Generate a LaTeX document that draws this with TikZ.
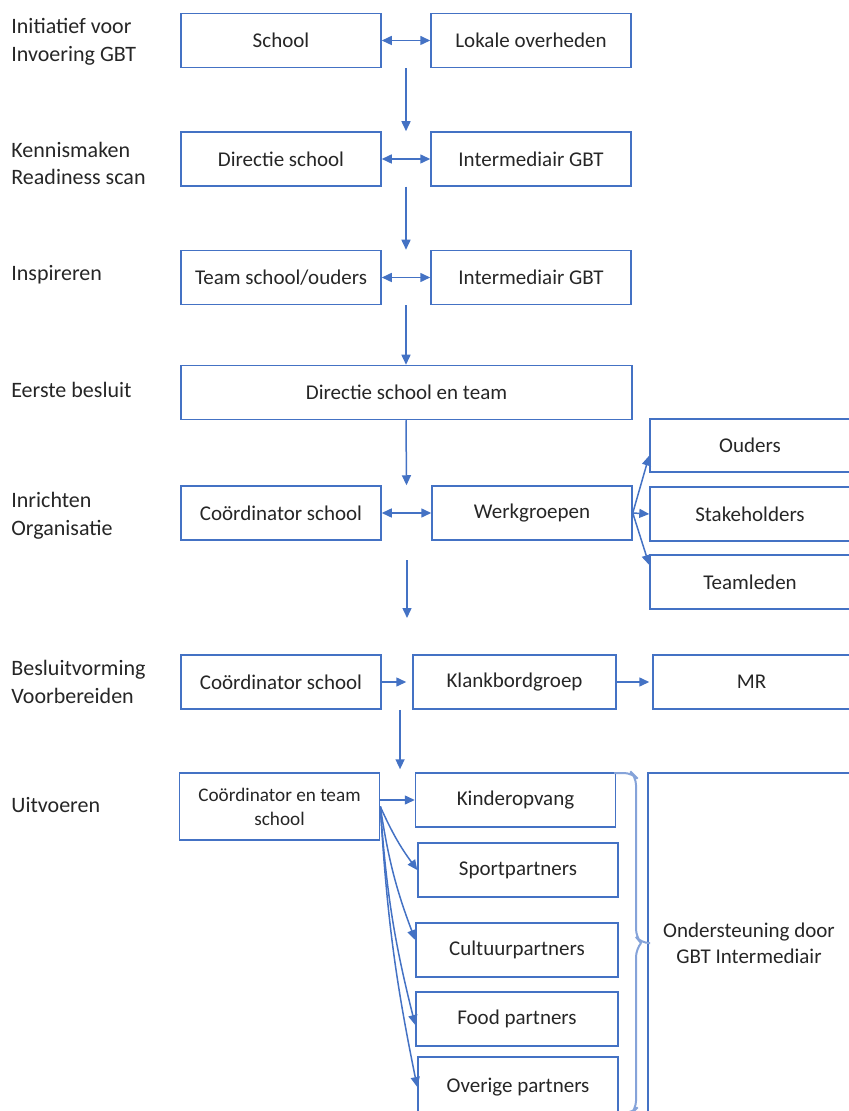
\documentclass[tikz,border=0pt]{standalone}
\usepackage{fontspec}
\setmainfont{Carlito}
\usetikzlibrary{arrows.meta, decorations.pathreplacing, calc}
\definecolor{gbtblue}{RGB}{68,114,196}
\definecolor{txtgray}{RGB}{38,38,38}

\begin{document}
\begin{tikzpicture}[x=0.5pt,y=-0.5pt,
  box/.style={draw=gbtblue,line width=0.75pt,minimum width=100pt,minimum height=27pt,
    inner sep=1pt,align=center,text=txtgray,font=\fontsize{10.5}{13}\selectfont},
  phase/.style={anchor=west,align=left,inner sep=0pt,text=txtgray,font=\fontsize{11}{13.8}\selectfont},
  link/.style={gbtblue,line width=0.75pt,-{Triangle[length=5pt,width=4.5pt]}},
  dlink/.style={gbtblue,line width=0.75pt,{Triangle[length=5pt,width=4.5pt]}-{Triangle[length=5pt,width=4.5pt]}}]
  \useasboundingbox (0,0) rectangle (848,1111);

  % fasen
  \node[phase] (ph1) at (11,42) {Initiatief voor\\Invoering GBT};
  \node[phase] (ph2) at (11,163.5) {Kennismaken\\Readiness scan};
  \node[phase] (ph3) at (11,275) {Inspireren};
  \node[phase] (ph4) at (11,390) {Eerste besluit};
  \node[phase] (ph5) at (11,515.5) {Inrichten\\Organisatie};
  \node[phase] (ph6) at (11,682) {Besluitvorming\\Voorbereiden};
  \node[phase] (ph7) at (11,805) {Uitvoeren};

  % rijen
  \node[box] (school) at (281,40.5) {School};
  \node[box] (lokaal) at (531,40.5) {Lokale overheden};
  \node[box] (dirS) at (281,159) {Directie school};
  \node[box] (dirI) at (531,159) {Intermediair GBT};
  \node[box] (teamS) at (281,277.5) {Team school/ouders};
  \node[box] (teamI) at (531,277.5) {Intermediair GBT};
  \node[box,minimum width=225.5pt] (eerste) at (406.5,392.5) {Directie school en team};
  \node[box] (coordA) at (281,513) {Coördinator school};
  \node[box] (werk) at (532,513) {Werkgroepen};
  \node[box,minimum height=26.5pt] (ouders) at (750,445.5) {Ouders};
  \node[box] (stake) at (750,514) {Stakeholders};
  \node[box] (teamled) at (750,582) {Teamleden};
  \node[box] (coordB) at (281,682) {Coördinator school};
  \node[box,minimum width=101.5pt] (klank) at (514.5,682) {Klankbordgroep};
  \node[box,minimum width=98.5pt] (mr) at (751.5,682) {MR};
  \node[box,minimum height=33.5pt,font=\fontsize{9.6}{12}\selectfont] (coordC) at (279.5,806.5) {Coördinator en team\\school};
  \node[box] (kinder) at (515.5,800) {Kinderopvang};
  \node[box] (sport) at (518,870) {Sportpartners};
  \node[box,minimum width=101pt] (cultuur) at (517,950) {Cultuurpartners};
  \node[box,minimum width=101pt] (food) at (517,1019) {Food partners};
  \node[box,minimum height=30pt] (overig) at (518,1087) {Overige partners};
  \node[box,minimum width=101pt,minimum height=170pt] (onder) at (749,943) {Ondersteuning door\\GBT Intermediair};

  % pijlen
  \draw[dlink] (school) -- (lokaal);
  \draw[dlink] (dirS) -- (dirI);
  \draw[dlink] (teamS) -- (teamI);
  \draw[dlink] (coordA) -- (werk);
  \draw[link] ($(school.south east)!.5!(lokaal.south west)$) -- ($(dirS.north east)!.5!(dirI.north west)$);
  \draw[link] ($(dirS.south east)!.5!(dirI.south west)$) -- ($(teamS.north east)!.5!(teamI.north west)$);
  \draw[link] ($(teamS.south east)!.5!(teamI.south west)$) coordinate (v3) -- (v3 |- eerste.north);
  \draw[link] (v3 |- eerste.south) -- ($(coordA.north east)!.5!(werk.north west)$);
  \draw[link] (werk.east) -- ([yshift=-5pt]ouders.west);
  \draw[link] (werk.east) -- (stake.west);
  \draw[link] (werk.east) -- ([yshift=8.5pt]teamled.west);
  \coordinate (losA) at (407,560);
  \coordinate (losB) at (407,618);
  \draw[link] (losA) -- (losB);
  \draw[link,shorten >=3pt] (coordB) -- (klank);
  \draw[link,shorten >=1.5pt] (klank) -- (mr);
  \draw[link,shorten >=1.5pt] ($(coordB.south east)!.6!(klank.south west)$) coordinate (v6) -- (v6 |- kinder.north);
  \draw[link] (coordC.east |- kinder.west) -- (kinder.west);
  \draw[link] (coordC.east) to[bend right=6] (sport.west);
  \draw[link] (coordC.east) to[bend right=6] ([yshift=5pt]cultuur.west);
  \draw[link] (coordC.east) to[bend right=5] ([yshift=-3pt]food.west);
  \draw[link] (coordC.east) to[bend right=4] (overig.west);

  % accolade
  \coordinate (brT) at (614,773);
  \coordinate (brM) at (650,943);
  \coordinate (brB) at (614,1113);
  \draw[gbtblue!65,line width=1pt,rounded corners=4pt]
    (brT) -- (632,773) -- (636,777) -- (636,937) -- (641,943) -- (brM)
    (641,943) -- (636,949) -- (636,1109) -- (632,1113) -- (brB);
\end{tikzpicture}
\end{document}
